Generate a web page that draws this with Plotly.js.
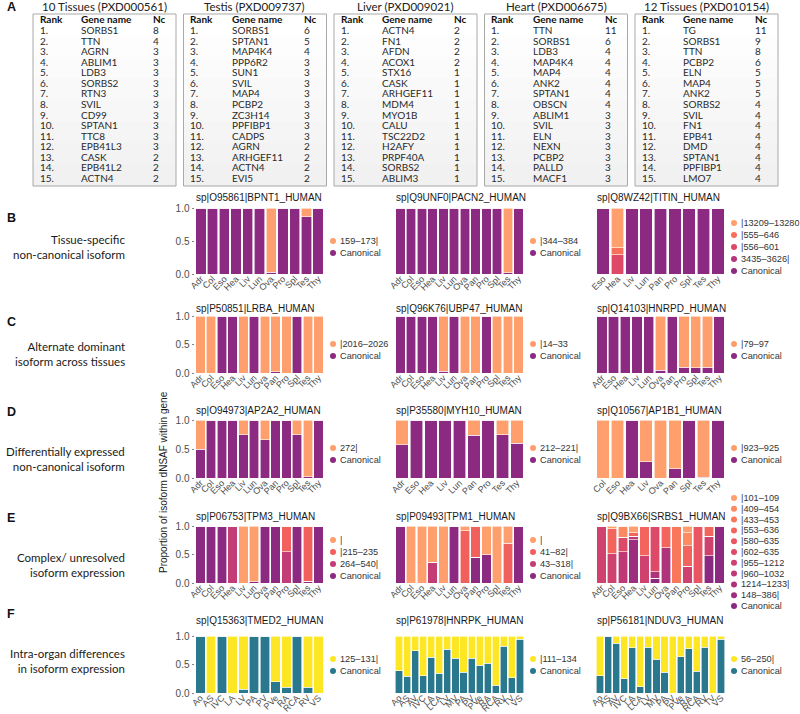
<!DOCTYPE html>
<html>
<head>
<meta charset="utf-8">
<script src="https://cdn.plot.ly/plotly-3.0.1.min.js"></script>
<style>
  body { margin: 0; background: #fff; }
  #fig { width: 800px; height: 714px; }
</style>
</head>
<body>
<div id="fig"></div>
<script>
// ---------- panel A: top-15 tables ----------
var tableTitles = ['10 Tissues (PXD000561)', 'Testis (PXD009737)', 'Liver (PXD009021)', 'Heart (PXD006675)', '12 Tissues (PXD010154)'];
var genes10Tissues = ['SORBS1', 'TTN', 'AGRN', 'ABLIM1', 'LDB3', 'SORBS2', 'RTN3', 'SVIL', 'CD99', 'SPTAN1', 'TTC8', 'EPB41L3', 'CASK', 'EPB41L2', 'ACTN4'];
var nc10Tissues = [8, 4, 3, 3, 3, 3, 3, 3, 3, 3, 3, 3, 2, 2, 2];
var genesTestis = ['SORBS1', 'SPTAN1', 'MAP4K4', 'PPP6R2', 'SUN1', 'SVIL', 'MAP4', 'PCBP2', 'ZC3H14', 'PPFIBP1', 'CADPS', 'AGRN', 'ARHGEF11', 'ACTN4', 'EVI5'];
var ncTestis = [6, 5, 4, 3, 3, 3, 3, 3, 3, 3, 3, 2, 2, 2, 2];
var genesLiver = ['ACTN4', 'FN1', 'AFDN', 'ACOX1', 'STX16', 'CASK', 'ARHGEF11', 'MDM4', 'MYO1B', 'CALU', 'TSC22D2', 'H2AFY', 'PRPF40A', 'SORBS2', 'ABLIM3'];
var ncLiver = [2, 2, 2, 2, 1, 1, 1, 1, 1, 1, 1, 1, 1, 1, 1];
var genesHeart = ['TTN', 'SORBS1', 'LDB3', 'MAP4K4', 'MAP4', 'ANK2', 'SPTAN1', 'OBSCN', 'ABLIM1', 'SVIL', 'ELN', 'NEXN', 'PCBP2', 'PALLD', 'MACF1'];
var ncHeart = [11, 6, 4, 4, 4, 4, 4, 4, 3, 3, 3, 3, 3, 3, 3];
var genes12Tissues = ['TG', 'SORBS1', 'TTN', 'PCBP2', 'ELN', 'MAP4', 'ANK2', 'SORBS2', 'SVIL', 'FN1', 'EPB41', 'DMD', 'SPTAN1', 'PPFIBP1', 'LMO7'];
var nc12Tissues = [11, 9, 8, 6, 5, 5, 5, 4, 4, 4, 4, 4, 4, 4, 4];

// ---------- tissues ----------
var tis11 = ['Adr', 'Col', 'Eso', 'Hea', 'Liv', 'Lun', 'Ova', 'Pro', 'Spl', 'Tes', 'Thy'];
var tis12 = ['Adr', 'Col', 'Eso', 'Hea', 'Liv', 'Lun', 'Ova', 'Pan', 'Pro', 'Spl', 'Tes', 'Thy'];
var titinTissues = ['Eso', 'Hea', 'Liv', 'Lun', 'Pan', 'Pro', 'Spl', 'Tes', 'Thy'];
var hnrpdTissues = ['Adr', 'Eso', 'Hea', 'Liv', 'Lun', 'Ova', 'Pan', 'Pro', 'Spl', 'Tes', 'Thy'];
var myh10Tissues = ['Adr', 'Eso', 'Hea', 'Liv', 'Lun', 'Pan', 'Pro', 'Tes', 'Thy'];
var ap1b1Tissues = ['Col', 'Eso', 'Hea', 'Liv', 'Ova', 'Pan', 'Spl', 'Tes', 'Thy'];
var tmed2Regions = ['Ao', 'AS', 'IVC', 'LA', 'LV', 'PA', 'PV', 'PVe', 'RA', 'RCA', 'RV', 'VS'];
var heartRegions = ['Ao', 'AS', 'AV', 'IVC', 'LA', 'LCA', 'LV', 'MV', 'PA', 'PV', 'PVe', 'RA', 'RCA', 'RV', 'TV', 'VS'];

// ---------- B ----------
var bpnt1Names = ['159–173|', 'Canonical'];
var bpnt1Iso = [0, 0, 0, 0, 0, 0, 0.97, 0, 0, 0.13, 0];
var bpnt1Can = [1, 1, 1, 1, 1, 1, 0.03, 1, 1, 0.87, 1];

var pacn2Names = ['|344–384', 'Canonical'];
var pacn2Iso = [0, 0, 0, 0, 0, 0, 0, 0, 0, 0, 0.98, 0];
var pacn2Can = [1, 1, 1, 1, 1, 1, 1, 1, 1, 1, 0.02, 1];

var titinNames = ['|13209–13280', '|555–646', '|556–601', '3435–3626|', 'Canonical'];
var titin13209 = [0, 0.6, 0, 0, 0, 0, 0, 0, 0];
var titin555 = [0, 0.11, 0, 0, 0, 0, 0, 0, 0];
var titin556 = [0, 0.29, 0, 0, 0, 0, 0, 0, 0];
var titin3435 = [0, 0, 0, 0, 0, 0, 0, 0, 0];
var titinCan = [1, 0, 1, 1, 1, 1, 1, 1, 1];

// ---------- C ----------
var lrbaNames = ['|2016–2026', 'Canonical'];
var lrbaIso = [1, 1, 0, 0, 1, 0, 1, 0.98, 1, 0, 1, 1];
var lrbaCan = [0, 0, 1, 1, 0, 1, 0, 0.02, 0, 1, 0, 0];

var ubp47Names = ['|14–33', 'Canonical'];
var ubp47Iso = [0, 0, 0, 0, 0.97, 0, 1, 1, 0, 1, 1, 1];
var ubp47Can = [1, 1, 1, 1, 0.03, 1, 0, 0, 1, 0, 0, 0];

var hnrpdNames = ['|79–97', 'Canonical'];
var hnrpdIso = [0, 0, 0, 0, 0, 0.95, 0, 0.9, 0.91, 0.9, 0];
var hnrpdCan = [1, 1, 1, 1, 1, 0.05, 1, 0.1, 0.09, 0.1, 1];

// ---------- D ----------
var ap2a2Names = ['272|', 'Canonical'];
var ap2a2Iso = [0.5, 0, 0, 0, 0.25, 0, 0.34, 0, 0, 0.25, 0.98, 0];
var ap2a2Can = [0.5, 1, 1, 1, 0.75, 1, 0.66, 1, 1, 0.75, 0.02, 1];

var myh10Names = ['212–221|', 'Canonical'];
var myh10Iso = [0.43, 0, 0, 0, 0, 0.26, 0, 0.25, 0.4];
var myh10Can = [0.57, 1, 1, 1, 1, 0.74, 1, 0.75, 0.6];

var ap1b1Names = ['|923–925', 'Canonical'];
var ap1b1Iso = [1, 1, 0, 0.72, 1, 0.84, 0, 0.99, 0];
var ap1b1Can = [0, 0, 1, 0.28, 0, 0.16, 1, 0.01, 1];

// ---------- E ----------
var tpm3Names = ['|', '|215–235', '264–540|', 'Canonical'];
var tpm3Bar = [0, 0, 0, 0, 1, 0.98, 0, 0, 0, 0, 0, 0];
var tpm3s215 = [0, 0, 0, 0, 0, 0, 0, 0, 0.45, 0, 0.97, 0];
var tpm3s264 = [0, 0, 0, 1, 0, 0, 0, 0, 0.55, 0, 0, 0];
var tpm3Can = [1, 1, 1, 0, 0, 0.02, 1, 1, 0, 1, 0.03, 1];

var tpm1Names = ['|', '41–82|', '43–318|', 'Canonical'];
var tpm1Bar = [0, 1, 1, 0.64, 1, 0, 0.08, 0, 0.5, 1, 0.3, 0];
var tpm1s41 = [0, 0, 0, 0, 0, 0, 0.92, 0.55, 0, 0, 0.7, 0];
var tpm1s43 = [0, 0, 0, 0.36, 0, 0, 0, 0, 0, 0, 0, 0];
var tpm1Can = [1, 0, 0, 0, 0, 1, 0, 0.45, 0.5, 0, 0, 1];

var srbs1Names = ['|101–109', '|409–454', '|433–453', '|553–636', '|580–635', '|602–635', '|955–1212', '|960–1032', '1214–1233|', '148–386|', 'Canonical'];
var srbs1s101 = [0, 0.05, 0, 0.12, 0, 0, 0, 0, 0.12, 0, 0, 0];
var srbs1s409 = [0, 0, 0.2, 0, 0, 0, 0, 0, 0.23, 0, 0, 0];
var srbs1s433 = [0, 0, 0, 0, 0, 0, 0, 1, 0, 0, 0, 0];
var srbs1s553 = [0, 0.44, 0, 0.06, 0.52, 0, 0.38, 0, 0.36, 0, 0.18, 0];
var srbs1s580 = [0, 0, 0, 0, 0, 0, 0, 0, 0, 1, 0, 0];
var srbs1s602 = [0, 0, 0.25, 0, 0, 0.8, 0, 0, 0, 0, 0, 0];
var srbs1s955 = [1, 0.51, 0, 0, 0.48, 0, 0, 0, 0.29, 0, 0.34, 0];
var srbs1s960 = [0, 0, 0.55, 0.06, 0, 0, 0, 0, 0, 0, 0, 0];
var srbs1s1214 = [0, 0, 0, 0, 0, 0.12, 0.62, 0, 0, 0, 0, 0];
var srbs1s148 = [0, 0, 0, 0.76, 0, 0, 0, 0, 0, 0, 0, 0];
var srbs1Can = [0, 0, 0, 0, 0, 0.08, 0, 0, 0, 0, 0.48, 1];

// ---------- F ----------
var tmed2Names = ['125–131|', 'Canonical'];
var tmed2Iso = [0, 1, 0, 1, 0.93, 0, 0, 0.8, 0.9, 0, 0.9, 1];
var tmed2Can = [1, 0, 1, 0, 0.07, 1, 1, 0.2, 0.1, 1, 0.1, 0];

var hnrpkNames = ['|111–134', 'Canonical'];
var hnrpkIso = [0.61, 0.71, 0.26, 0.7, 0.37, 0.65, 0.23, 0.39, 0.64, 0.39, 0.51, 0.48, 0.86, 0.18, 0.73, 0.06];
var hnrpkCan = [0.39, 0.29, 0.74, 0.3, 0.63, 0.35, 0.77, 0.61, 0.36, 0.61, 0.49, 0.52, 0.14, 0.82, 0.27, 0.94];

var nduv3Names = ['56–250|', 'Canonical'];
var nduv3Iso = [0.7, 0, 0.13, 0.75, 0.21, 0.89, 0.2, 0.41, 0.64, 1, 0.36, 0.22, 0.62, 0.2, 1, 0.06];
var nduv3Can = [0.3, 1, 0.87, 0.25, 0.79, 0.11, 0.8, 0.59, 0.36, 0, 0.64, 0.78, 0.38, 0.8, 0, 0.94];

var rowLabels = [
  'Tissue-specific<br>non-canonical isoform',
  'Alternate dominant<br>isoform across tissues',
  'Differentially expressed<br>non-canonical isoform',
  'Complex/ unresolved<br>isoform expression',
  'Intra-organ differences<br>in isoform expression'
];

// palettes (magma 0.4-0.8 / viridis 0.4-1)
var magma2 = ['#FE9F6D', '#8C2981'];
var magma4 = ['#FE9F6D', '#F1605D', '#C43C75', '#8C2981'];
var magma5 = ['#FE9F6D', '#F7705C', '#DE4968', '#B63679', '#8C2981'];
var magma11 = ['#FE9F6D', '#FD8A61', '#F9775B', '#F3655C', '#E95562', '#DD4A68', '#CF416E', '#BF3975', '#AE337B', '#9D2E7F', '#8C2981'];
var viridis2 = ['#FDE725', '#2A788E'];

var panels = [
  {title: 'sp|O95861|BPNT1_HUMAN', x: tis11, names: bpnt1Names, vals: [bpnt1Iso, bpnt1Can], pal: magma2},
  {title: 'sp|Q9UNF0|PACN2_HUMAN', x: tis12, names: pacn2Names, vals: [pacn2Iso, pacn2Can], pal: magma2},
  {title: 'sp|Q8WZ42|TITIN_HUMAN', x: titinTissues, names: titinNames, vals: [titin13209, titin555, titin556, titin3435, titinCan], pal: magma5},
  {title: 'sp|P50851|LRBA_HUMAN', x: tis12, names: lrbaNames, vals: [lrbaIso, lrbaCan], pal: magma2},
  {title: 'sp|Q96K76|UBP47_HUMAN', x: tis12, names: ubp47Names, vals: [ubp47Iso, ubp47Can], pal: magma2},
  {title: 'sp|Q14103|HNRPD_HUMAN', x: hnrpdTissues, names: hnrpdNames, vals: [hnrpdIso, hnrpdCan], pal: magma2},
  {title: 'sp|O94973|AP2A2_HUMAN', x: tis12, names: ap2a2Names, vals: [ap2a2Iso, ap2a2Can], pal: magma2},
  {title: 'sp|P35580|MYH10_HUMAN', x: myh10Tissues, names: myh10Names, vals: [myh10Iso, myh10Can], pal: magma2},
  {title: 'sp|Q10567|AP1B1_HUMAN', x: ap1b1Tissues, names: ap1b1Names, vals: [ap1b1Iso, ap1b1Can], pal: magma2},
  {title: 'sp|P06753|TPM3_HUMAN', x: tis12, names: tpm3Names, vals: [tpm3Bar, tpm3s215, tpm3s264, tpm3Can], pal: magma4},
  {title: 'sp|P09493|TPM1_HUMAN', x: tis12, names: tpm1Names, vals: [tpm1Bar, tpm1s41, tpm1s43, tpm1Can], pal: magma4},
  {title: 'sp|Q9BX66|SRBS1_HUMAN', x: tis12, names: srbs1Names,
    vals: [srbs1s101, srbs1s409, srbs1s433, srbs1s553, srbs1s580, srbs1s602, srbs1s955, srbs1s960, srbs1s1214, srbs1s148, srbs1Can], pal: magma11},
  {title: 'sp|Q15363|TMED2_HUMAN', x: tmed2Regions, names: tmed2Names, vals: [tmed2Iso, tmed2Can], pal: viridis2},
  {title: 'sp|P61978|HNRPK_HUMAN', x: heartRegions, names: hnrpkNames, vals: [hnrpkIso, hnrpkCan], pal: viridis2},
  {title: 'sp|P56181|NDUV3_HUMAN', x: heartRegions, names: nduv3Names, vals: [nduv3Iso, nduv3Can], pal: viridis2}
];

// ---------- layout helpers ----------
var W = 800, H = 714;
function px(x) { return x / W; }
function py(y) { return 1 - y / H; }

var ARIAL = 'Liberation Sans, Arial, sans-serif';
var LATO = 'Lato, sans-serif';
var colX = [[195, 324], [395, 524], [596, 725]];
// per row of panels B..F (pixels from top)
var rowTop = [208, 316, 420, 526, 636];
var rowH = [66, 57, 58, 57, 57];
var titleY = [197, 308, 411, 516, 620];
var legendY = [247, 350, 454, 558, 665];
var labelY = [247, 354, 459, 565, 661];
var letterY = [218, 322, 412, 518, 614];

var data = [];
var shapes = [];
var annotations = [];
var layout = {
  width: W, height: H,
  margin: {l: 0, r: 0, t: 0, b: 0},
  paper_bgcolor: '#fff', plot_bgcolor: '#fff',
  barmode: 'stack', bargap: 0.12,
  showlegend: false,
  font: {family: ARIAL, color: '#222'}
};

// tables
var tableGenes = [genes10Tissues, genesTestis, genesLiver, genesHeart, genes12Tissues];
var tableNc = [nc10Tissues, ncTestis, ncLiver, ncHeart, nc12Tissues];
var bandCols = ['#ffffff', '#fdfdfd', '#fbfbfb', '#f9f9f9', '#f7f7f7', '#f5f5f5', '#f3f3f3', '#f1f1f1'];
var rowStep = 10.57;
function cell(x, y, txt, size, color) {
  return {xref: 'paper', yref: 'paper', x: x, y: y, text: txt, showarrow: false, height: 10, valign: 'middle',
    xanchor: 'left', yanchor: 'middle', font: {family: LATO, size: size, color: color}};
}
tableTitles.forEach(function(t, i) {
  var L = 33 + 150.5 * i, R = L + 143, T = 14, B = 186;
  var bh = (B - T) / bandCols.length;
  bandCols.forEach(function(c, k) {
    shapes.push({type: 'rect', xref: 'paper', yref: 'paper', x0: px(L), x1: px(R),
      y0: py(T + bh * (k + 1) + 0.5), y1: py(T + bh * k), fillcolor: c, line: {width: 0}});
  });
  shapes.push({type: 'rect', xref: 'paper', yref: 'paper', x0: px(L), x1: px(R), y0: py(B), y1: py(T),
    line: {color: '#a9a9a9', width: 1}});
  annotations.push({xref: 'paper', yref: 'paper', x: px(L + 71.5), y: py(6.5), text: t, showarrow: false,
    xanchor: 'center', yanchor: 'middle', font: {family: LATO, size: 11.5, color: '#222'}});
  [['Rank', 4.5], ['Gene name', 46], ['Nc', 118]].forEach(function(h) {
    annotations.push(cell(px(L + h[1]), py(30 - rowStep), '<b>' + h[0] + '</b>', 10, '#111'));
  });
  tableGenes[i].forEach(function(g, r) {
    var yy = py(30 + rowStep * r);
    [[(r + 1) + '.', 4.5], [g, 46], [String(tableNc[i][r]), 118]].forEach(function(c) {
      annotations.push(cell(px(L + c[1]), yy, c[0], 10, '#2a2a2a'));
    });
  });
});

// panel letters
['A', 'B', 'C', 'D', 'E', 'F'].forEach(function(l, i) {
  var y = i === 0 ? 7 : letterY[i - 1];
  annotations.push({xref: 'paper', yref: 'paper', x: px(5), y: py(y), text: '<b>' + l + '</b>', showarrow: false,
    xanchor: 'left', yanchor: 'middle', font: {family: ARIAL, size: 12.5, color: '#111'}});
});

// row labels
rowLabels.forEach(function(t, i) {
  annotations.push({xref: 'paper', yref: 'paper', x: px(127), y: py(labelY[i]), text: t, showarrow: false,
    xanchor: 'right', yanchor: 'middle', align: 'right', font: {family: LATO, size: 11.5, color: '#1a1a1a'}});
});

// y title
annotations.push({xref: 'paper', yref: 'paper', x: px(163), y: py(482), text: 'Proportion of isoform dNSAF within gene',
  textangle: -90, showarrow: false, xanchor: 'center', yanchor: 'middle', font: {family: ARIAL, size: 10, color: '#1a1a1a'}});

// bar panels
panels.forEach(function(p, i) {
  var row = Math.floor(i / 3), col = i % 3;
  var sfx = i === 0 ? '' : String(i + 1);
  var xa = 'x' + sfx, ya = 'y' + sfx;
  var x0 = colX[col][0], x1 = colX[col][1], top = rowTop[row];

  for (var j = p.names.length - 1; j >= 0; j--) {
    data.push({type: 'bar', x: p.x, y: p.vals[j], name: p.names[j], xaxis: xa, yaxis: ya,
      marker: {color: p.pal[j], line: {color: '#ffffff', width: 0.6}}, hoverinfo: 'skip'});
  }

  layout['xaxis' + sfx] = {
    domain: [px(x0), px(x1)], anchor: ya, type: 'category',
    range: [-0.5, p.x.length - 0.5], tickmode: 'array', tickvals: p.x, ticktext: p.x,
    tickangle: -45, ticklabelstandoff: -3, tickfont: {family: ARIAL, size: 9, color: '#4d4d4d'},
    showgrid: false, zeroline: false, showline: false, ticks: '', automargin: false, fixedrange: true
  };
  layout['yaxis' + sfx] = {
    domain: [py(top + rowH[row]), py(top)], anchor: xa, range: [0, 1],
    tickmode: 'array', tickvals: [0, 0.5, 1], ticktext: ['0.0', '0.5', '1.0'],
    showticklabels: col === 0,
    tickfont: {family: ARIAL, size: 10, color: '#4d4d4d'},
    ticks: col === 0 ? 'outside' : '', ticklen: 2.5, tickwidth: 0.6, tickcolor: '#333',
    showgrid: false, zeroline: false, showline: false, automargin: false, fixedrange: true
  };

  annotations.push({xref: 'paper', yref: 'paper', x: px(x0 - 1), y: py(titleY[row]), text: p.title, showarrow: false,
    xanchor: 'left', yanchor: 'middle', font: {family: ARIAL, size: 10, color: '#1a1a1a'}});

  // legend (drawn by hand so spacing can be tight)
  var n = p.names.length;
  var sp = n > 6 ? 10.8 : 12;
  var rad = 3;
  var cy = n > 6 ? legendY[row] - 6 : legendY[row];
  p.names.forEach(function(nm, k) {
    var yy = cy + (k - (n - 1) / 2) * sp;
    var mx = x1 + 9;
    shapes.push({type: 'circle', xref: 'paper', yref: 'paper', x0: px(mx - rad), x1: px(mx + rad),
      y0: py(yy + rad), y1: py(yy - rad), fillcolor: p.pal[k], line: {width: 0}});
    annotations.push({xref: 'paper', yref: 'paper', x: px(mx + 4.5), y: py(yy), text: nm, showarrow: false,
      height: 10, valign: 'middle',
      xanchor: 'left', yanchor: 'middle', font: {family: ARIAL, size: 9.2, color: '#333'}});
  });
});

layout.shapes = shapes;
layout.annotations = annotations;

Plotly.newPlot('fig', data, layout, {staticPlot: true, displayModeBar: false});
</script>
</body>
</html>
